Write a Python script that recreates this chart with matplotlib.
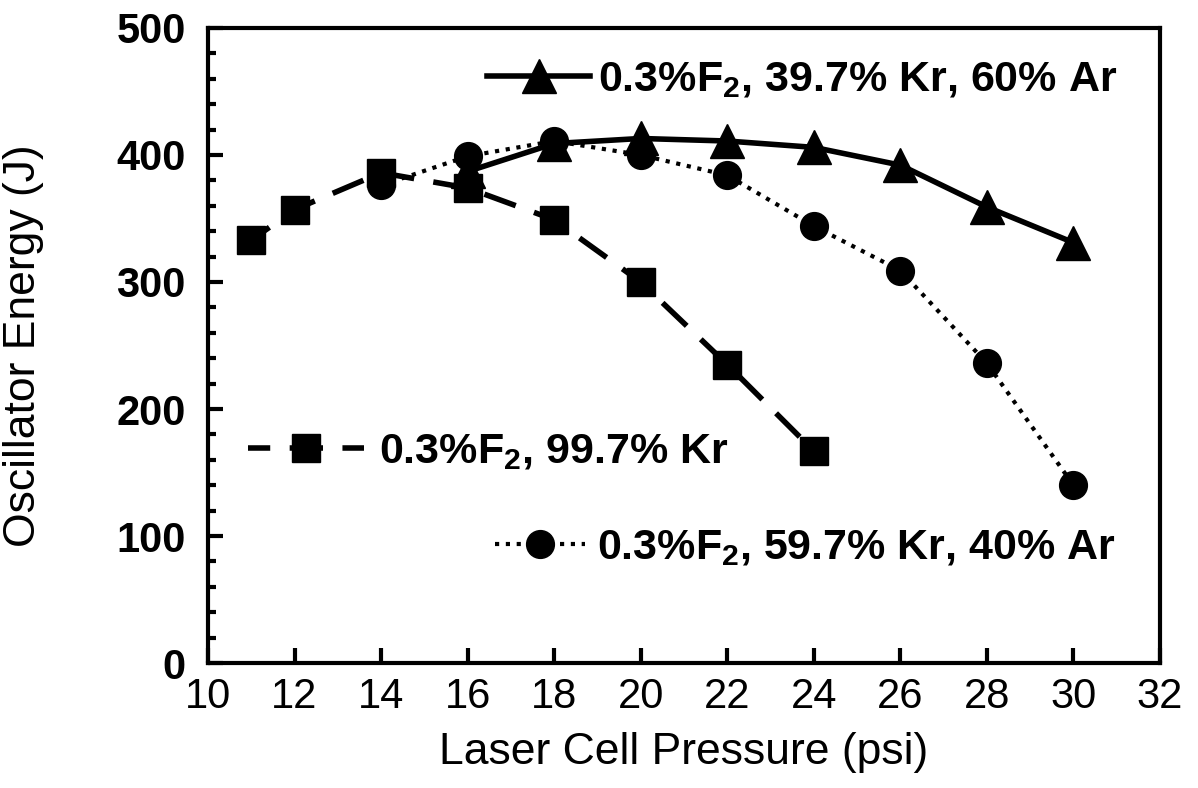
import matplotlib
matplotlib.use('Agg')
import matplotlib.pyplot as plt
import numpy as np

plt.rcParams['font.family'] = ['Liberation Sans', 'DejaVu Sans']
plt.rcParams['mathtext.fontset'] = 'custom'
plt.rcParams['mathtext.rm'] = 'Liberation Sans'
plt.rcParams['mathtext.bf'] = 'Liberation Sans:bold'

# Dados
p_kr = [11, 12, 14, 16, 18, 20, 22, 24]
e_kr = [333, 357, 386, 374, 349, 300, 235, 167]

p_kr_ar40 = [14, 16, 18, 20, 22, 24, 26, 28, 30]
e_kr_ar40 = [376, 399, 411, 400, 384, 344, 309, 236, 140]

p_kr_ar60 = [16, 18, 20, 22, 24, 26, 28, 30]
e_kr_ar60 = [387, 409, 413, 411, 406, 392, 359, 331]

rotulos = [r'0.3%F$_\mathbf{2}$, 39.7% Kr, 60% Ar',
           r'0.3%F$_\mathbf{2}$, 99.7% Kr',
           r'0.3%F$_\mathbf{2}$, 59.7% Kr, 40% Ar']

fig = plt.figure(figsize=(11.98, 7.88), dpi=100)
ax = fig.add_axes([0.1736, 0.1586, 0.7947, 0.8059])

l_kr, = ax.plot(p_kr, e_kr, color='black', lw=4, linestyle=(2, (6, 3.5)),
                marker='s', ms=20, zorder=3)
l_ar40, = ax.plot(p_kr_ar40, e_kr_ar40, color='black', lw=3,
                  linestyle=(0, (1, 1.6)), marker='o', ms=20, zorder=3)
l_ar60, = ax.plot(p_kr_ar60, e_kr_ar60, color='black', lw=4,
                  marker='^', ms=24, zorder=4)

ax.set_xlim(10, 32)
ax.set_ylim(0, 500)
ax.set_xticks(np.arange(10, 33, 2))
ax.set_yticks(np.arange(0, 501, 100))
ax.set_yticks(np.arange(0, 501, 20), minor=True)

for s in ax.spines.values():
    s.set_linewidth(3)

ax.tick_params(axis='both', which='major', direction='in', length=11, width=3,
               labelsize=30)
ax.tick_params(axis='x', which='major', pad=10)
ax.tick_params(axis='y', which='major', pad=16)
ax.tick_params(axis='y', which='minor', direction='in', length=6, width=3)
for t in ax.get_yticklabels():
    t.set_fontweight('bold')

ax.set_xlabel('Laser Cell Pressure (psi)', fontsize=32)
ax.set_ylabel('Oscillator Energy (J)', fontsize=32)
ax.xaxis.set_label_coords(0.5, -0.108)
ax.yaxis.set_label_coords(-0.172, 0.5)

# Legendas separadas
fs = 31
leg1 = ax.legend([l_ar60], [rotulos[0]], loc='center left',
                 bbox_to_anchor=(0.293, 0.918), frameon=False, numpoints=1,
                 handlelength=2.4, handletextpad=0.19, borderpad=0, borderaxespad=0,
                 prop={'size': fs, 'weight': 'bold'})
ax.add_artist(leg1)
leg2 = ax.legend([l_kr], [rotulos[1]], loc='center left',
                 bbox_to_anchor=(0.042, 0.332), frameon=False, numpoints=1,
                 handlelength=2.7, handletextpad=0.35, borderpad=0, borderaxespad=0,
                 prop={'size': fs, 'weight': 'bold'})
ax.add_artist(leg2)
leg3 = ax.legend([l_ar40], [rotulos[2]], loc='center left',
                 bbox_to_anchor=(0.301, 0.181), frameon=False, numpoints=1,
                 handlelength=2.1, handletextpad=0.28, borderpad=0, borderaxespad=0,
                 prop={'size': fs, 'weight': 'bold'})

fig.savefig('out.png', dpi=100)
